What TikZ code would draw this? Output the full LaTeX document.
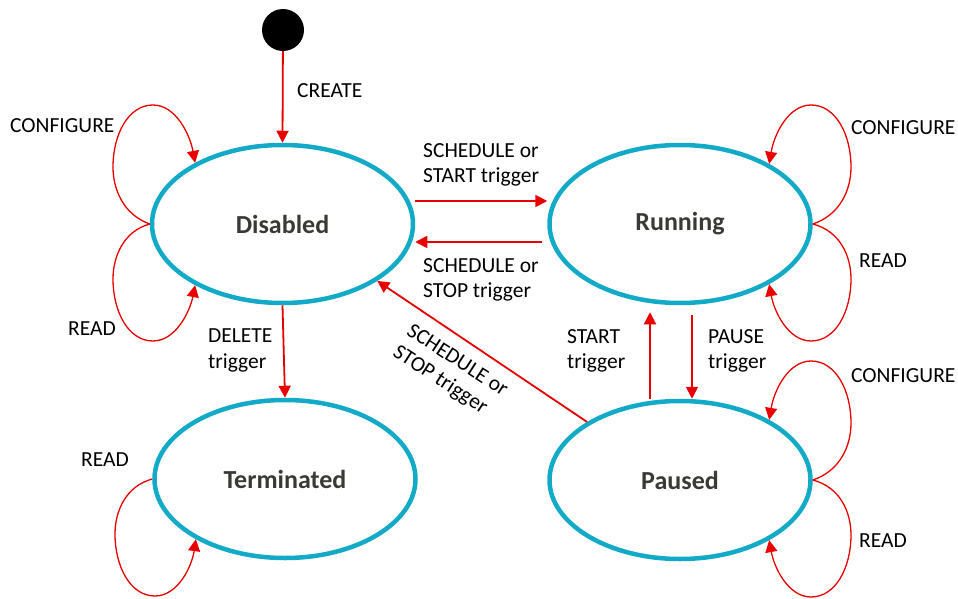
\documentclass[tikz,border=0pt]{standalone}
\usepackage{fontspec}
\setmainfont{Carlito}
\usetikzlibrary{arrows.meta,shapes.geometric}
\definecolor{stateblue}{RGB}{18,170,198}
\definecolor{flowred}{RGB}{232,0,0}
\definecolor{statetext}{RGB}{58,58,52}
\begin{document}
\begin{tikzpicture}[x=1pt,y=-1pt,
  state/.style={ellipse, draw=stateblue, line width=4.5pt,
    minimum width=261pt, minimum height=158pt, inner sep=0pt,
    font=\fontsize{26}{30}\selectfont\bfseries, text=statetext},
  initial/.style={circle, fill=black, minimum size=42pt, inner sep=0pt},
  flow/.style={draw=flowred, line width=1.8pt, -{Triangle[length=12pt,width=12pt]}},
  selfloop/.style={draw=flowred, line width=1.3pt, -{Triangle[length=12pt,width=12pt]}},
  lbl/.style={font=\fontsize{21.5}{25.5}\selectfont, align=left, inner sep=0pt, anchor=north west}]

\useasboundingbox (0,0) rectangle (958,599);

% states
\node[initial] (init) at (283,30) {};
\node[state] (dis) at (282.5,224) {Disabled};
\node[state] (run) at (680,224) {Running};
\node[state] (ter) at (285,479) {Terminated};
\node[state] (pau) at (680,480) {Paused};

% transitions between states
\draw[flow] (init) -- (dis.north);
\draw[flow] ([yshift=23pt]dis.east) -- ([yshift=23pt]run.west);
\draw[flow] ([yshift=-18pt,xshift=-5pt]run.west) -- ([yshift=-18pt]dis.east);
\draw[flow] (pau.148.5) -- (dis.-31);
\draw[flow] ([xshift=-30pt]pau.north) -- ([xshift=-30pt,yshift=-7pt]run.south);
\draw[flow] ([xshift=12pt,yshift=-10pt]run.south) -- ([xshift=12pt]pau.north);
\draw[flow] (dis.south) -- (ter.north);

% self loops
\draw[selfloop] (dis.west) .. controls (124,215) and (113,190) .. (113,167)
  .. controls (113,135) and (128,105) .. (153,105)
  .. controls (176,105) and (190,135) .. (dis.145.5);
\draw[selfloop] (dis.west) .. controls (124,231) and (113,256) .. (113,279)
  .. controls (113,311) and (128,341) .. (153,341)
  .. controls (176,341) and (190,311) .. (dis.-145.5);
\draw[selfloop] (run.east) .. controls (840,215) and (851,190) .. (851,167)
  .. controls (851,135) and (836,105) .. (811,105)
  .. controls (788,105) and (774,135) .. (run.34.5);
\draw[selfloop] (run.east) .. controls (840,231) and (851,256) .. (851,279)
  .. controls (851,311) and (836,341) .. (811,341)
  .. controls (788,341) and (774,311) .. (run.-34.5);
\draw[selfloop] (pau.east) .. controls (840,471) and (851,446) .. (851,423)
  .. controls (851,391) and (836,361) .. (811,361)
  .. controls (788,361) and (774,391) .. (pau.34.5);
\draw[selfloop] (pau.east) .. controls (840,487) and (851,512) .. (851,535)
  .. controls (851,567) and (836,597) .. (811,597)
  .. controls (788,597) and (774,567) .. (pau.-34.5);
\draw[selfloop] (ter.west) .. controls (126,486) and (115,511) .. (115,534)
  .. controls (115,566) and (130,596) .. (155,596)
  .. controls (178,596) and (192,566) .. (ter.-146);

% labels
\node[lbl] (lcreate) at (297,83) {CREATE};
\node[lbl] (lcfgdis) at (10,118) {CONFIGURE};
\node[lbl] (lreaddis) at (68,322) {READ};
\node[lbl] (ldelete) at (208,329) {DELETE\\trigger};
\node[lbl] (lcfgrun) at (851,120) {CONFIGURE};
\node[lbl] (lreadrun) at (859,254) {READ};
\node[lbl] (lcfgpau) at (851,368) {CONFIGURE};
\node[lbl] (lreadpau) at (859,533) {READ};
\node[lbl] (lreadter) at (81,453) {READ};
\node[lbl] (lsched) at (423,143) {SCHEDULE or\\START trigger};
\node[lbl] (lstop) at (423,258) {SCHEDULE or\\STOP trigger};
\node[lbl] (lstart) at (567,329) {START\\trigger};
\node[lbl] (lpause) at (708,329) {PAUSE\\trigger};
\node[lbl, anchor=center, rotate=-33] (ldiag) at (450,372) {SCHEDULE or\\STOP trigger};
\end{tikzpicture}
\end{document}
